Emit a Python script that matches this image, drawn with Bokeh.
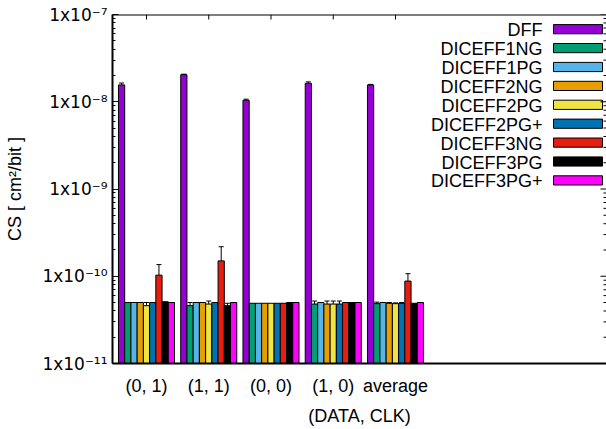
from bokeh.plotting import figure
from bokeh.models import (Range1d, FixedTicker, CustomJSTickFormatter,
                          Whisker, ColumnDataSource, Span)
from bokeh.core.properties import value
from bokeh.embed import file_html
from bokeh.resources import INLINE

# ---------------- data ----------------
groups = ["(0, 1)", "(1, 1)", "(0, 0)", "(1, 0)", "average"]
series = ["DFF", "DICEFF1NG", "DICEFF1PG", "DICEFF2NG", "DICEFF2PG",
          "DICEFF2PG+", "DICEFF3NG", "DICEFF3PG", "DICEFF3PG+"]
colors = ["#9400D3", "#009E73", "#56B4E9", "#E69F00", "#F0E442",
          "#0072B2", "#E51E10", "#000000", "#FF00FF"]

DFF = [1.56e-8, 2.04e-8, 1.04e-8, 1.63e-8, 1.56e-8]
DFF_err = [0.08e-8, 0.03e-8, 0.03e-8, 0.06e-8, 0.02e-8]
DICEFF1NG = [5.0e-11, 4.6e-11, 4.9e-11, 4.8e-11, 4.85e-11]
DICEFF1NG_err = [0.0, 0.4e-11, 0.0, 0.4e-11, 0.2e-11]
DICEFF1PG = [5.0e-11, 5.0e-11, 4.9e-11, 5.0e-11, 5.0e-11]
DICEFF1PG_err = [0.0, 0.0, 0.0, 0.0, 0.0]
DICEFF2NG = [5.0e-11, 5.0e-11, 4.9e-11, 4.8e-11, 4.9e-11]
DICEFF2NG_err = [0.0, 0.0, 0.0, 0.4e-11, 0.1e-11]
DICEFF2PG = [4.6e-11, 4.8e-11, 4.9e-11, 4.8e-11, 4.85e-11]
DICEFF2PG_err = [0.4e-11, 0.4e-11, 0.0, 0.4e-11, 0.1e-11]
DICEFF2PGp = [5.0e-11, 5.0e-11, 4.9e-11, 4.8e-11, 4.9e-11]
DICEFF2PGp_err = [0.0, 0.0, 0.0, 0.4e-11, 0.1e-11]
DICEFF3NG = [1.03e-10, 1.5e-10, 4.9e-11, 5.0e-11, 8.8e-11]
DICEFF3NG_err = [0.33e-10, 0.68e-10, 0.0, 0.0, 1.9e-11]
DICEFF3PG = [5.1e-11, 4.6e-11, 5.0e-11, 5.0e-11, 4.9e-11]
DICEFF3PG_err = [0.0, 0.3e-11, 0.0, 0.0, 0.0]
DICEFF3PGp = [5.0e-11, 5.0e-11, 5.0e-11, 5.0e-11, 5.0e-11]
DICEFF3PGp_err = [0.0, 0.0, 0.0, 0.0, 0.0]

values = [DFF, DICEFF1NG, DICEFF1PG, DICEFF2NG, DICEFF2PG,
          DICEFF2PGp, DICEFF3NG, DICEFF3PG, DICEFF3PGp]
errors = [DFF_err, DICEFF1NG_err, DICEFF1PG_err, DICEFF2NG_err, DICEFF2PG_err,
          DICEFF2PGp_err, DICEFF3NG_err, DICEFF3PG_err, DICEFF3PGp_err]

y_ticks = [1e-11, 1e-10, 1e-9, 1e-8, 1e-7]
y_minor = [k * 10.0 ** e for e in range(-11, -7) for k in range(2, 10)]

# ---------------- layout ----------------
FONT = "Liberation Sans"
FS = "18px"
PX_PER_X = 62.25          # pixels per group unit
PX_PER_DEC = 87.25        # pixels per decade
FRAME_L = 112
FRAME_T = 14
FRAME_W = 494
X_START = -0.546
X_END = X_START + FRAME_W / PX_PER_X
BAR_STEP = 0.1
BAR_W = 0.1


def data_x(px):  # page pixels
    return X_START + (px - FRAME_L) / PX_PER_X


def data_y(py):  # page pixels
    return 10 ** (-7 - (py - FRAME_T) / PX_PER_DEC)


p = figure(width=606, height=428, y_axis_type="log",
           x_range=Range1d(X_START, X_END), y_range=Range1d(1e-11, 1e-7),
           output_backend="svg", toolbar_location=None,
           min_border_left=FRAME_L, min_border_right=0, min_border_top=FRAME_T,
           min_border_bottom=65)
p.outline_line_color = None
p.xgrid.visible = False
p.ygrid.visible = False
p.background_fill_color = "white"

# bars
for j, (name, vals, errs, col) in enumerate(zip(series, values, errors, colors)):
    xs = [gi + (j - 4) * BAR_STEP for gi in range(len(groups))]
    p.vbar(x=xs, top=vals, bottom=1e-11, width=BAR_W, fill_color=col,
           line_color="black", line_width=1)
    ex = [x for x, e in zip(xs, errs) if e > 0]
    up = [v + e for v, e in zip(vals, errs) if e > 0]
    lo = [v - e for v, e in zip(vals, errs) if e > 0]
    if ex:
        src = ColumnDataSource(dict(x=ex, upper=up, lower=lo))
        w = Whisker(base="x", upper="upper", lower="lower", source=src,
                    line_color="black", line_width=1)
        w.upper_head.size = 5
        w.lower_head.size = 5
        w.upper_head.line_color = "black"
        w.lower_head.line_color = "black"
        p.add_layout(w)

# legend (text right-aligned, swatch on the right)
row0 = 28.7
row_step = 18.9
for k, (name, col) in enumerate(zip(series, colors)):
    yc = row0 + k * row_step
    p.text(x=[data_x(542)], y=[data_y(yc + 1)], text=[name],
           text_font=value(FONT), text_font_size=FS, text_align="right",
           text_baseline="middle", text_color="black")
    p.quad(left=[data_x(553)], right=[data_x(602)], top=[data_y(yc - 4.6)],
           bottom=[data_y(yc + 4.6)], fill_color=col, line_color="black", line_width=1)

# top border and mirrored ticks (top and right)
p.add_layout(Span(location=1e-7, dimension="width", line_color="black", line_width=2))
gx = list(range(len(groups)))
p.segment(x0=gx, x1=gx, y0=[1e-7] * len(gx), y1=[data_y(FRAME_T + 5)] * len(gx),
          line_color="black", line_width=1)
p.segment(x0=[data_x(600)] * len(y_ticks), x1=[X_END] * len(y_ticks),
          y0=y_ticks, y1=y_ticks, line_color="black", line_width=1)
p.segment(x0=[data_x(603)] * len(y_minor), x1=[X_END] * len(y_minor),
          y0=y_minor, y1=y_minor, line_color="black", line_width=1)

# y axis (left)
ya = p.yaxis[0]
ya.ticker = FixedTicker(ticks=y_ticks, minor_ticks=y_minor)
ya.formatter = CustomJSTickFormatter(code="""
const e = Math.round(Math.log10(tick));
const sup = {'-':'\u207b','0':'\u2070','1':'\u00b9','2':'\u00b2','3':'\u00b3','4':'\u2074',
             '5':'\u2075','6':'\u2076','7':'\u2077','8':'\u2078','9':'\u2079'};
return '1x10' + String(e).split('').map(c => sup[c]).join('');
""")
ya.axis_label = "CS [ cm\u00b2/bit ]"
ya.axis_label_text_font = FONT
ya.axis_label_text_font_size = FS
ya.axis_label_text_font_style = "normal"
ya.axis_label_text_color = "black"
ya.axis_label_standoff = 14
ya.major_label_text_font = "DejaVu Sans"
ya.major_label_text_font_size = "17px"
ya.major_label_text_color = "black"
ya.major_label_standoff = 5
ya.major_tick_in = 6
ya.major_tick_out = 0
ya.minor_tick_in = 3
ya.minor_tick_out = 0
ya.axis_line_width = 2
ya.axis_line_color = "black"
ya.major_tick_line_color = "black"
ya.minor_tick_line_color = "black"

# x axis (bottom)
xa = p.xaxis[0]
xa.ticker = FixedTicker(ticks=gx)
xa.formatter = CustomJSTickFormatter(args=dict(labels=groups),
                                     code="const i = Math.round(tick); return (i >= 0 && i < labels.length) ? labels[i] : '';")
xa.axis_label = "(DATA, CLK)"
xa.axis_label_text_font = FONT
xa.axis_label_text_font_size = FS
xa.axis_label_text_font_style = "normal"
xa.axis_label_text_color = "black"
xa.axis_label_standoff = 7
xa.major_label_text_font = FONT
xa.major_label_text_font_size = FS
xa.major_label_text_color = "black"
xa.major_label_standoff = 12
xa.major_tick_in = 0
xa.major_tick_out = 0
xa.minor_tick_in = 0
xa.minor_tick_out = 0
xa.axis_line_width = 2
xa.axis_line_color = "black"

open("out.html", "w").write(file_html(p, INLINE))
